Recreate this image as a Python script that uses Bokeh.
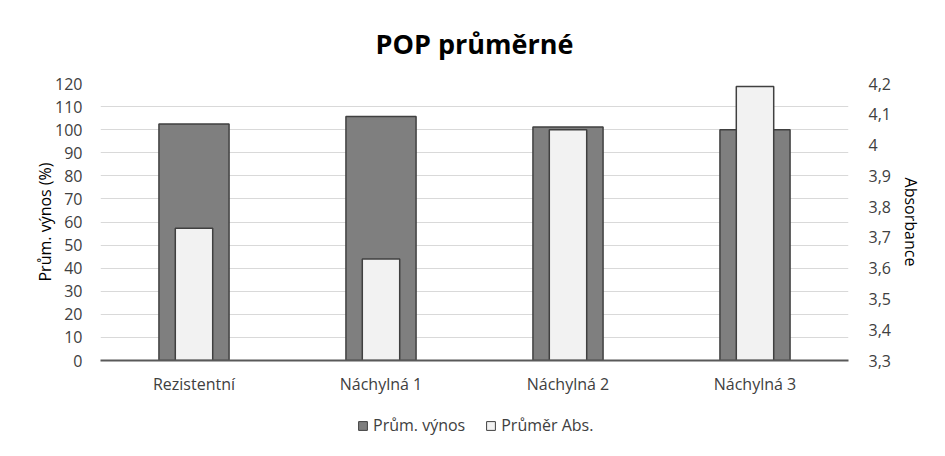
from bokeh.plotting import figure
from bokeh.layouts import column
from bokeh.models import (Range1d, FactorRange, LinearAxis, FixedTicker,
                          CustomJSTickFormatter, Legend, LegendItem)
from bokeh.embed import file_html
from bokeh.resources import INLINE

categories = ["Rezistentní", "Náchylná 1", "Náchylná 2", "Náchylná 3"]
prum_vynos = [102.5, 105.7, 101.2, 100.0]
prumer_abs = [3.73, 3.63, 4.05, 4.19]
left_ticks = list(range(0, 121, 10))
right_ticks = [3.3, 3.4, 3.5, 3.6, 3.7, 3.8, 3.9, 4.0, 4.1, 4.2]
series_names = ["Prům. výnos", "Průměr Abs."]

FONT = "Open Sans"
TXT = "#404040"
DARK_FILL = "#7f7f7f"
LIGHT_FILL = "#f2f2f2"
EDGE = "#404040"

p = figure(frame_width=748, frame_height=277, x_range=FactorRange(*categories), y_range=Range1d(0, 120),
           output_backend="svg", toolbar_location=None, title="POP průměrné")
p.min_border_left = 100
p.min_border_right = 81
p.min_border_top = 82
p.min_border_bottom = 40
p.outline_line_color = None
p.background_fill_color = "white"
p.border_fill_color = "white"

p.title.align = "center"
p.title.text_font = FONT
p.title.text_font_size = "27px"
p.title.text_font_style = "bold"
p.title.text_color = "#000000"
p.title.standoff = 44

p.extra_y_ranges = {"abs": Range1d(3.3, 4.2)}

dark = p.vbar(x=categories, top=prum_vynos, bottom=0, width=0.375,
              fill_color=DARK_FILL, line_color=EDGE, line_width=1.5)
light = p.vbar(x=categories, top=prumer_abs, bottom=3.3, width=0.2, y_range_name="abs",
               fill_color=LIGHT_FILL, line_color=EDGE, line_width=1.5)

# left axis
ya = p.yaxis[0]
ya.ticker = FixedTicker(ticks=left_ticks)
ya.axis_line_color = None
ya.major_tick_line_color = None
ya.minor_tick_line_color = None
ya.major_label_text_font = FONT
ya.major_label_text_font_size = "16px"
ya.major_label_text_color = TXT
ya.major_label_standoff = 12
ya.axis_label = "Prům. výnos (%)"
ya.axis_label_text_font = FONT
ya.axis_label_text_font_size = "16px"
ya.axis_label_text_font_style = "normal"
ya.axis_label_text_color = "#000000"
ya.axis_label_standoff = -4

ra = LinearAxis(y_range_name="abs", ticker=FixedTicker(ticks=right_ticks),
                formatter=CustomJSTickFormatter(code="var s = (Math.round(tick*10)/10).toString(); return s.replace('.', ',');"))
ra.axis_line_color = None
ra.major_tick_line_color = None
ra.minor_tick_line_color = None
ra.major_label_text_font = FONT
ra.major_label_text_font_size = "16px"
ra.major_label_text_color = TXT
ra.major_label_standoff = 14
ra.axis_label = "Absorbance"
ra.axis_label_text_font = FONT
ra.axis_label_text_font_size = "16px"
ra.axis_label_text_font_style = "normal"
ra.axis_label_text_color = "#000000"
ra.axis_label_standoff = 6
p.add_layout(ra, "right")

xa = p.xaxis[0]
xa.axis_line_color = "#595959"
xa.axis_line_width = 2
xa.major_tick_line_color = None
xa.minor_tick_line_color = None
xa.major_label_text_font = FONT
xa.major_label_text_font_size = "16px"
xa.major_label_text_color = TXT
xa.major_label_standoff = 6

p.xgrid.grid_line_color = None
p.ygrid.grid_line_color = "#d9d9d9"
p.ygrid.grid_line_width = 1

# legend strip below the chart (its series proxies lie outside its visible y range)
lf = figure(width=929, height=50, x_range=p.x_range, y_range=Range1d(1000, 1001),
            x_axis_type=None, y_axis_type=None, output_backend="svg", toolbar_location=None)
lf.min_border_left = 0
lf.min_border_right = 0
lf.min_border_top = 0
lf.min_border_bottom = 0
lf.outline_line_color = None
lf.xgrid.grid_line_color = None
lf.ygrid.grid_line_color = None
lg_dark = lf.vbar(x=categories, top=prum_vynos, bottom=0, width=0.375,
                  fill_color=DARK_FILL, line_color=EDGE, line_width=1)
lg_light = lf.vbar(x=categories, top=prum_vynos, bottom=0, width=0.2,
                   fill_color=LIGHT_FILL, line_color=EDGE, line_width=1)
legend = Legend(items=[LegendItem(label=series_names[0], renderers=[lg_dark]),
                       LegendItem(label=series_names[1], renderers=[lg_light])],
                orientation="horizontal", location=(257, 14),
                label_text_font=FONT, label_text_font_size="16px", label_text_color=TXT,
                glyph_width=11, glyph_height=11, spacing=20, label_standoff=5,
                border_line_color=None, background_fill_alpha=0, padding=0, margin=0)
lf.add_layout(legend, "center")

open("out.html", "w").write(file_html(column(p, lf), INLINE))
